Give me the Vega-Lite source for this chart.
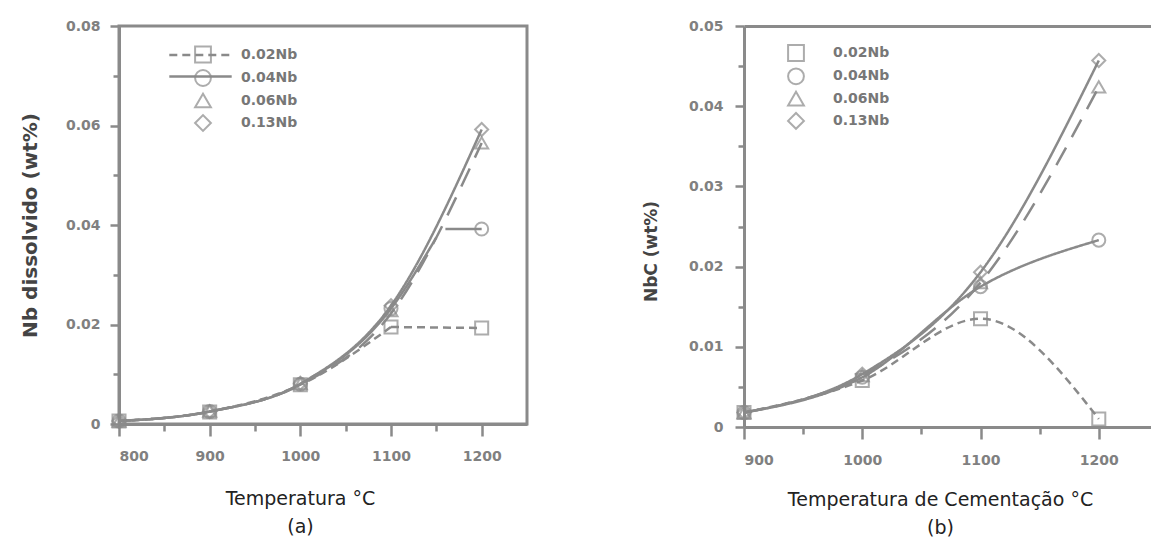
{
  "$schema": "https://vega.github.io/schema/vega-lite/v6.json",
  "padding": {"left": 18, "top": 17, "right": 0, "bottom": 0},
  "spacing": 113,
  "background": "white",
  "resolve": {"scale": {"shape": "independent", "strokeDash": "independent"}, "legend": {"shape": "independent", "strokeDash": "independent"}},
  "config": {
    "view": {"stroke": "#8a8a8a", "strokeWidth": 3},
    "axis": {"grid": false, "domainColor": "#8a8a8a", "domainWidth": 3, "tickColor": "#8a8a8a", "tickWidth": 2.5, "labelFont": "DejaVu Sans", "labelFontSize": 14, "labelFontWeight": "bold", "labelColor": "#808080"},
    "line": {"color": "#8a8a8a", "strokeWidth": 2.5},
    "point": {"color": "#8a8a8a", "strokeWidth": 2, "size": 170, "filled": false}
  },
  "datasets": {
    "growthA": [
      {"alloy": "0.02Nb", "temp": 800, "wt": 0.0006}, {"alloy": "0.02Nb", "temp": 900, "wt": 0.0025}, {"alloy": "0.02Nb", "temp": 1000, "wt": 0.0079}, {"alloy": "0.02Nb", "temp": 1100, "wt": 0.0195},
      {"alloy": "0.04Nb", "temp": 800, "wt": 0.0006}, {"alloy": "0.04Nb", "temp": 900, "wt": 0.0025}, {"alloy": "0.04Nb", "temp": 1000, "wt": 0.008}, {"alloy": "0.04Nb", "temp": 1100, "wt": 0.0232}, {"alloy": "0.04Nb", "temp": 1150, "wt": 0.0375},
      {"alloy": "0.06Nb", "temp": 800, "wt": 0.0006}, {"alloy": "0.06Nb", "temp": 900, "wt": 0.0025}, {"alloy": "0.06Nb", "temp": 1000, "wt": 0.0079}, {"alloy": "0.06Nb", "temp": 1100, "wt": 0.0222}, {"alloy": "0.06Nb", "temp": 1200, "wt": 0.0565},
      {"alloy": "0.13Nb", "temp": 800, "wt": 0.0006}, {"alloy": "0.13Nb", "temp": 900, "wt": 0.0025}, {"alloy": "0.13Nb", "temp": 1000, "wt": 0.0081}, {"alloy": "0.13Nb", "temp": 1100, "wt": 0.0238}, {"alloy": "0.13Nb", "temp": 1200, "wt": 0.0592}
    ],
    "plateauA": [
      {"alloy": "0.02Nb", "temp": 1100, "wt": 0.0195}, {"alloy": "0.02Nb", "temp": 1200, "wt": 0.0193},
      {"alloy": "0.04Nb", "temp": 1160, "wt": 0.0392}, {"alloy": "0.04Nb", "temp": 1200, "wt": 0.0392}
    ],
    "pointsA": [
      {"alloy": "0.02Nb", "temp": 800, "wt": 0.0006}, {"alloy": "0.04Nb", "temp": 800, "wt": 0.0006}, {"alloy": "0.06Nb", "temp": 800, "wt": 0.0006}, {"alloy": "0.13Nb", "temp": 800, "wt": 0.0006},
      {"alloy": "0.02Nb", "temp": 900, "wt": 0.0024}, {"alloy": "0.04Nb", "temp": 900, "wt": 0.0025}, {"alloy": "0.06Nb", "temp": 900, "wt": 0.0026}, {"alloy": "0.13Nb", "temp": 900, "wt": 0.0025},
      {"alloy": "0.02Nb", "temp": 1000, "wt": 0.0079}, {"alloy": "0.04Nb", "temp": 1000, "wt": 0.008}, {"alloy": "0.06Nb", "temp": 1000, "wt": 0.0081}, {"alloy": "0.13Nb", "temp": 1000, "wt": 0.0082},
      {"alloy": "0.02Nb", "temp": 1100, "wt": 0.0195}, {"alloy": "0.04Nb", "temp": 1100, "wt": 0.0232}, {"alloy": "0.06Nb", "temp": 1100, "wt": 0.0228}, {"alloy": "0.13Nb", "temp": 1100, "wt": 0.0238},
      {"alloy": "0.02Nb", "temp": 1200, "wt": 0.0193}, {"alloy": "0.04Nb", "temp": 1200, "wt": 0.0392}, {"alloy": "0.06Nb", "temp": 1200, "wt": 0.0565}, {"alloy": "0.13Nb", "temp": 1200, "wt": 0.0592}
    ],
    "growthB": [
      {"alloy": "0.02Nb", "temp": 900, "wt": 0.0018}, {"alloy": "0.02Nb", "temp": 1000, "wt": 0.0058}, {"alloy": "0.02Nb", "temp": 1100, "wt": 0.0135}, {"alloy": "0.02Nb", "temp": 1200, "wt": 0.001},
      {"alloy": "0.04Nb", "temp": 900, "wt": 0.0018}, {"alloy": "0.04Nb", "temp": 1000, "wt": 0.0062}, {"alloy": "0.04Nb", "temp": 1100, "wt": 0.0175}, {"alloy": "0.04Nb", "temp": 1200, "wt": 0.0233},
      {"alloy": "0.06Nb", "temp": 900, "wt": 0.0018}, {"alloy": "0.06Nb", "temp": 1000, "wt": 0.0064}, {"alloy": "0.06Nb", "temp": 1100, "wt": 0.018}, {"alloy": "0.06Nb", "temp": 1200, "wt": 0.0424},
      {"alloy": "0.13Nb", "temp": 900, "wt": 0.0018}, {"alloy": "0.13Nb", "temp": 1000, "wt": 0.0066}, {"alloy": "0.13Nb", "temp": 1100, "wt": 0.0193}, {"alloy": "0.13Nb", "temp": 1200, "wt": 0.0457}
    ]
  },
  "hconcat": [
    {
      "width": 408,
      "height": 398,
      "layer": [
        {
          "data": {"name": "growthA"},
          "mark": {"type": "line", "interpolate": "monotone"},
          "encoding": {
            "x": {"field": "temp", "type": "quantitative", "scale": {"domain": [800, 1250], "nice": false, "zero": false},
              "axis": {"orient": "bottom", "values": [800, 900, 1000, 1100, 1200], "format": "d", "tickSize": 12, "labelPadding": 13,
                "title": ["Temperatura °C", "(a)"], "titleFont": "DejaVu Sans", "titleFontSize": 19, "titleFontWeight": "normal", "titleColor": "#222222",
                "titleX": 181, "titleY": 65, "titleAlign": "center", "titleBaseline": "top", "titleLineHeight": 28}},
            "y": {"field": "wt", "type": "quantitative", "scale": {"domain": [0, 0.08], "nice": false, "zero": false},
              "axis": {"orient": "left", "values": [0, 0.02, 0.04, 0.06, 0.08], "tickSize": 9, "labelPadding": 10,
                "labelExpr": "datum.value === 0 ? '0' : format(datum.value, '.2f')",
                "title": "Nb dissolvido (wt%)", "titleFont": "DejaVu Sans", "titleFontSize": 20, "titleFontWeight": "bold", "titleColor": "#444444",
                "titleAngle": -90, "titleX": -89, "titleY": 199, "titleAlign": "center", "titleBaseline": "middle"}},
            "strokeDash": {"field": "alloy", "type": "nominal",
              "scale": {"range": [[8, 5], [1, 0], [20, 12], [1, 0]]},
              "legend": {"values": ["0.02Nb", "0.04Nb"], "orient": "none", "legendX": 72, "legendY": 19.5, "title": null,
                "symbolType": "M-3.9,0H3.9", "symbolSize": 256, "symbolStrokeColor": "#8a8a8a", "symbolStrokeWidth": 2.5,
                "labelExpr": "''", "labelFontSize": 14, "rowPadding": 4.5, "padding": 0, "zindex": 1}}
          }
        },
        {
          "data": {"name": "plateauA"},
          "mark": {"type": "line", "interpolate": "linear"},
          "encoding": {
            "x": {"field": "temp", "type": "quantitative", "scale": {"domain": [800, 1250], "nice": false, "zero": false}, "axis": null},
            "y": {"field": "wt", "type": "quantitative", "scale": {"domain": [0, 0.08], "nice": false, "zero": false}, "axis": null},
            "strokeDash": {"field": "alloy", "type": "nominal"}
          }
        },
        {
          "data": {"name": "pointsA"},
          "mark": {"type": "point"},
          "encoding": {
            "x": {"field": "temp", "type": "quantitative", "scale": {"domain": [800, 1250], "nice": false, "zero": false}, "axis": null},
            "y": {"field": "wt", "type": "quantitative", "scale": {"domain": [0, 0.08], "nice": false, "zero": false}, "axis": null},
            "shape": {"field": "alloy", "type": "nominal",
              "scale": {"domain": ["0.02Nb", "0.04Nb", "0.06Nb", "0.13Nb"], "range": ["square", "circle", "triangle-up", "diamond"]},
              "legend": {"orient": "none", "legendX": 75, "legendY": 19.5, "title": null, "padding": 0, "zindex": 2,
                "symbolSize": 250, "symbolStrokeWidth": 2, "symbolStrokeColor": "#8a8a8a", "symbolFillColor": "#ffffff",
                "labelFont": "DejaVu Sans", "labelFontSize": 14, "labelFontWeight": "bold", "labelColor": "#777777", "labelOffset": 29, "rowPadding": -0.5}}
          }
        },
        {
          "data": {"name": "pointsA"},
          "mark": {"type": "point", "opacity": 0},
          "encoding": {
            "x": {"field": "temp", "type": "quantitative", "scale": {"domain": [800, 1250], "nice": false, "zero": false},
              "axis": {"orient": "bottom", "values": [850, 950, 1050, 1150], "labels": false, "domain": false, "tickSize": 7, "title": null}},
            "y": {"field": "wt", "type": "quantitative", "scale": {"domain": [0, 0.08], "nice": false, "zero": false},
              "axis": {"orient": "left", "values": [0.01, 0.03, 0.05, 0.07], "labels": false, "domain": false, "tickSize": 6, "title": null}}
          }
        }
      ],
      "resolve": {"axis": {"x": "independent", "y": "independent"}}
    },
    {
      "width": 408,
      "height": 401,
      "view": {"stroke": null},
      "layer": [
        {
          "data": {"name": "growthB"},
          "mark": {"type": "line", "interpolate": "monotone"},
          "encoding": {
            "x": {"field": "temp", "type": "quantitative", "scale": {"domain": [900, 1245], "nice": false, "zero": false},
              "axis": {"orient": "bottom", "values": [900, 1000, 1100, 1200], "format": "d", "tickSize": 12, "labelPadding": 14,
                "title": ["Temperatura de Cementação °C", "(b)"], "titleFont": "DejaVu Sans", "titleFontSize": 19, "titleFontWeight": "normal", "titleColor": "#222222",
                "titleX": 196, "titleY": 63, "titleAlign": "center", "titleBaseline": "top", "titleLineHeight": 28}},
            "y": {"field": "wt", "type": "quantitative", "scale": {"domain": [0, 0.05], "nice": false, "zero": false},
              "axis": {"orient": "left", "values": [0, 0.01, 0.02, 0.03, 0.04, 0.05], "tickSize": 9, "labelPadding": 12,
                "labelExpr": "datum.value === 0 ? '0' : format(datum.value, '.2f')",
                "title": "NbC (wt%)", "titleFont": "DejaVu Sans", "titleFontSize": 17, "titleFontWeight": "bold", "titleColor": "#444444",
                "titleAngle": -90, "titleX": -93, "titleY": 225, "titleAlign": "center", "titleBaseline": "middle"}},
            "strokeDash": {"field": "alloy", "type": "nominal",
              "scale": {"range": [[8, 5], [1, 0], [20, 12], [1, 0]]}, "legend": null}
          }
        },
        {
          "data": {"name": "growthB"},
          "mark": {"type": "point"},
          "encoding": {
            "x": {"field": "temp", "type": "quantitative", "scale": {"domain": [900, 1245], "nice": false, "zero": false}, "axis": null},
            "y": {"field": "wt", "type": "quantitative", "scale": {"domain": [0, 0.05], "nice": false, "zero": false}, "axis": null},
            "shape": {"field": "alloy", "type": "nominal",
              "scale": {"domain": ["0.02Nb", "0.04Nb", "0.06Nb", "0.13Nb"], "range": ["square", "circle", "triangle-up", "diamond"]},
              "legend": {"orient": "none", "legendX": 43, "legendY": 18, "title": null, "padding": 0,
                "symbolSize": 250, "symbolStrokeWidth": 2, "symbolStrokeColor": "#8a8a8a", "symbolFillColor": "#ffffff",
                "labelFont": "DejaVu Sans", "labelFontSize": 14, "labelFontWeight": "bold", "labelColor": "#777777", "labelOffset": 28, "rowPadding": -0.7}}
          }
        },
        {
          "data": {"name": "growthB"},
          "mark": {"type": "point", "opacity": 0},
          "encoding": {
            "x": {"field": "temp", "type": "quantitative", "scale": {"domain": [900, 1245], "nice": false, "zero": false},
              "axis": {"orient": "bottom", "values": [950, 1050, 1150], "labels": false, "domain": false, "tickSize": 7, "title": null}},
            "y": {"field": "wt", "type": "quantitative", "scale": {"domain": [0, 0.05], "nice": false, "zero": false},
              "axis": {"orient": "left", "values": [0.005, 0.015, 0.025, 0.035, 0.045], "labels": false, "domain": false, "tickSize": 6, "title": null}}
          }
        },
        {
          "data": {"name": "growthB"},
          "mark": {"type": "point", "opacity": 0},
          "encoding": {
            "x": {"field": "temp", "type": "quantitative", "scale": {"domain": [900, 1245], "nice": false, "zero": false},
              "axis": {"orient": "top", "labels": false, "ticks": false, "domain": true, "title": null}},
            "y": {"field": "wt", "type": "quantitative", "scale": {"domain": [0, 0.05], "nice": false, "zero": false}, "axis": null}
          }
        }
      ],
      "resolve": {"axis": {"x": "independent", "y": "independent"}}
    }
  ]
}
